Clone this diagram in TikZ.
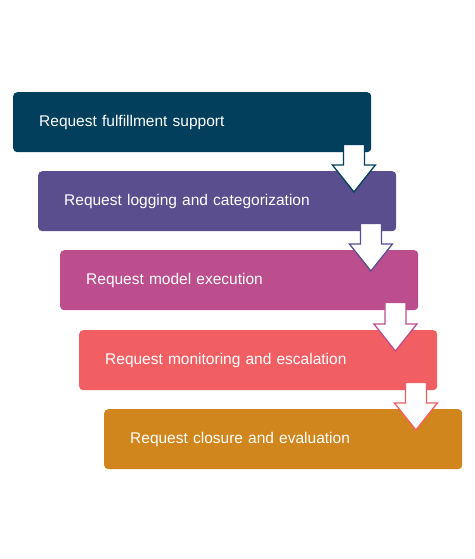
\documentclass[tikz,border=0pt]{standalone}
\usepackage{fontspec}
\setmainfont{Liberation Sans}
\usetikzlibrary{calc}
\definecolor{cA}{HTML}{023F5C}
\definecolor{cB}{HTML}{5B4E8E}
\definecolor{cC}{HTML}{BC4E8E}
\definecolor{cD}{HTML}{F25F62}
\definecolor{cE}{HTML}{D0861C}
\newcommand\flowarrow[4]{%
  \draw[flowarr, draw=#4] let \p1=($(#1.south east)+(#3,8)$), \p2=(#2.north) in
  (\x1-10.5pt,\y1) -- (\x1+10.5pt,\y1) -- (\x1+10.5pt,\y2+6pt) -- (\x1+21.5pt,\y2+6pt)
  -- (\x1,\y2-21pt) -- (\x1-21.5pt,\y2+6pt) -- (\x1-10.5pt,\y2+6pt) -- cycle;}
\begin{document}
\begin{tikzpicture}[x=1pt,y=1pt,
  stepbox/.style={rectangle, rounded corners=4pt, anchor=north west,
    minimum width=358pt, minimum height=60pt, text width=306pt, inner xsep=26pt,
    align=left, text=white, font=\fontsize{15.5}{18}\selectfont},
  flowarr/.style={fill=white, line width=1.3pt, line join=miter}]
\useasboundingbox[fill=white] (0,0) rectangle (474,559);
\node[stepbox, fill=cA] (b1) at (13,467) {Request fulfillment support};
\node[stepbox, fill=cB] (b2) at (38,388) {Request logging and categorization};
\node[stepbox, fill=cC] (b3) at (60,309) {Request model execution};
\node[stepbox, fill=cD] (b4) at (79,229) {Request monitoring and escalation};
\node[stepbox, fill=cE] (b5) at (104,150) {Request closure and evaluation};
\flowarrow{b1}{b2}{-17.5}{cA}
\flowarrow{b2}{b3}{-25.5}{cB}
\flowarrow{b3}{b4}{-23}{cC}
\flowarrow{b4}{b5}{-21.5}{cD}
\end{tikzpicture}
\end{document}
